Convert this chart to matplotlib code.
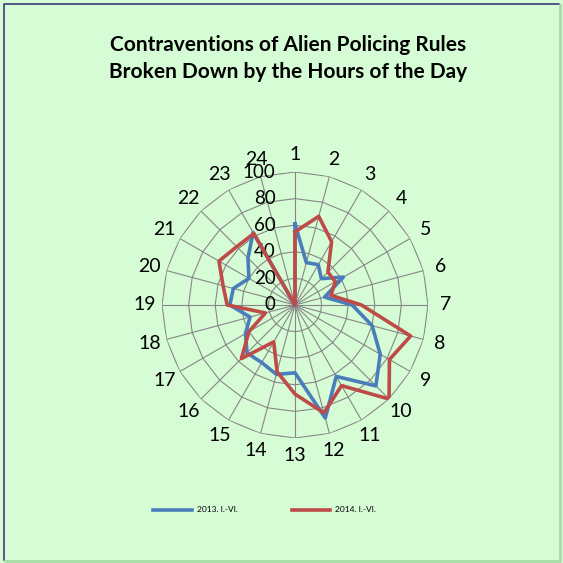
import matplotlib.pyplot as plt
from matplotlib.lines import Line2D
import numpy as np

hours = [str(h) for h in range(1, 25)]
v2013 = [61, 33, 35, 28, 42, 23, 43, 60, 74, 86, 62, 88,
         51, 54, 50, 51, 43, 35, 49, 48, 40, 50, 63, 0]
v2014 = [55, 69, 55, 35, 35, 28, 50, 90, 82, 100, 70, 84,
         67, 52, 32, 57, 40, 23, 51, 56, 66, 62, 62, 0]
rings = [0, 20, 40, 60, 80, 100]
series_names = ['2013. I.-VI.', '2014. I.-VI.']

bg = '#d6fcd6'
blue = '#4a7ebb'
red = '#be4b48'
grid = '#868686'

plt.rcParams['font.family'] = ['Lato', 'DejaVu Sans']

fig = plt.figure(figsize=(5.63, 5.63), dpi=100, facecolor=bg)
# frame: navy on top/left, green shadow on right/bottom
fig.add_artist(Line2D([4 / 563, 4 / 563, 559 / 563], [3 / 563, 559 / 563, 559 / 563],
                      transform=fig.transFigure, color='#3b3b7a', lw=1.2))
fig.add_artist(Line2D([5 / 563, 560 / 563, 560 / 563], [2 / 563, 2 / 563, 558 / 563],
                      transform=fig.transFigure, color='#a6dca6', lw=2))

fig.text(288.5 / 563, 1 - 45 / 563, 'Contraventions of Alien Policing Rules',
         ha='center', va='center', fontsize=15, fontweight='bold')
fig.text(288.5 / 563, 1 - 72 / 563, 'Broken Down by the Hours of the Day',
         ha='center', va='center', fontsize=15, fontweight='bold')

cx, cy, rad = 295, 305, 133
ax = fig.add_axes([(cx - rad) / 563, (563 - cy - rad) / 563, 2 * rad / 563, 2 * rad / 563],
                  projection='polar')
ax.set_theta_zero_location('N')
ax.set_theta_direction(-1)
ax.set_ylim(0, 100)
ax.patch.set_alpha(0)
ax.grid(False)
ax.spines['polar'].set_visible(False)
ax.set_xticks([])
ax.set_yticks([])

n = len(hours)
theta = np.arange(n) * 2 * np.pi / n
theta_c = np.append(theta, theta[0])

# polygon grid
for r in rings[1:]:
    ax.plot(theta_c, [r] * (n + 1), color=grid, lw=0.8, zorder=1)
for t in theta:
    ax.plot([t, t], [0, 100], color=grid, lw=0.8, zorder=1)

# hour labels
for t, lab in zip(theta, hours):
    ax.text(t, 113, lab, ha='center', va='center', fontsize=14)

# radial labels
for r in rings:
    ax.annotate(str(r), xy=(0, r), xytext=(-14, 0), textcoords='offset points',
                ha='right', va='center', fontsize=13.5)

l1, = ax.plot(theta_c, v2013 + v2013[:1], color=blue, lw=2.6, zorder=3)
l2, = ax.plot(theta_c, v2014 + v2014[:1], color=red, lw=2.6, zorder=4)

fig.legend([l1, l2], series_names, loc='center', bbox_to_anchor=(0.47, 1 - 510 / 563),
           ncol=2, frameon=False, fontsize=6, handlelength=4.6, handletextpad=0.6,
           columnspacing=6.5)

fig.savefig('out.png', dpi=100, facecolor=bg)
